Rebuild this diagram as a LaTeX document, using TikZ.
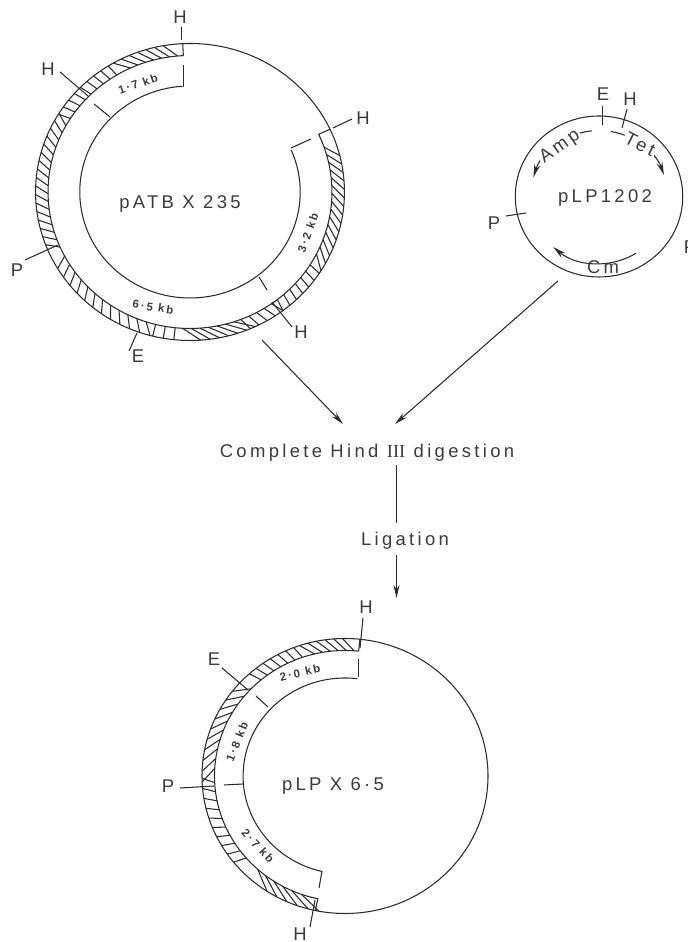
\documentclass[tikz,border=0pt]{standalone}
\usepackage{fontspec}
\setmainfont[LetterSpace=18]{Liberation Sans}
\newfontfamily\romanfont{Liberation Serif}
\usetikzlibrary{arrows.meta}
\definecolor{inkline}{HTML}{2A2A2A}
\definecolor{inktext}{HTML}{3A3A3A}
\tikzset{
  sitelabel/.style={text=inktext, inner sep=0pt, font=\fontsize{10.5}{12}\selectfont},
  namelabel/.style={text=inktext, inner sep=0pt, font=\fontsize{10.5}{12}\selectfont},
  sizelabel/.style={text=inktext, inner sep=0pt, font=\fontsize{6.5}{8}\selectfont\bfseries},
  steplabel/.style={text=inktext, inner sep=0pt, font=\fontsize{10.5}{12}\selectfont},
  sitetick/.style={draw=inkline, line width=0.6pt},
  flowarrow/.style={draw=inkline, line width=0.6pt, -{Stealth[length=2.6mm, width=1.2mm]}}
}
\newcommand{\hatcharc}[6]{%
  \pgfmathsetmacro{\nextangle}{#3+#5}
  \foreach \a [evaluate=\a as \b using \a+#6] in {#3,\nextangle,...,#4}
    \draw[inkline, line width=0.6pt] (\a:#1) -- (\b:#2);}
\begin{document}
\begin{tikzpicture}[x=0.02cm, y=0.02cm, line width=0.6pt, draw=inkline]
  \useasboundingbox (0,0) rectangle (687,942);

  \begin{scope}[shift={(190,750)}, xscale=1.04]
    \draw[inkline] (0,0) circle[radius=148.5];
    \draw[inkline] (92.7:136.5) arc[start angle=92.7, end angle=385, radius=136.5]
      -- (25:148.5) (92.7:136.5) -- (92.7:148.5);
    \draw[inkline] (94:106) arc[start angle=94, end angle=383.5, radius=106];
    \hatcharc{136.5}{148.5}{95}{118}{3.3}{5}
    \hatcharc{136.5}{148.5}{121}{148}{3.3}{1}
    \hatcharc{136.5}{148.5}{151}{205}{3.3}{-3}
    \hatcharc{136.5}{148.5}{208}{252}{4}{3}
    \hatcharc{136.5}{148.5}{256}{264}{4}{0}
    \hatcharc{136.5}{148.5}{267}{288}{3.5}{7}
    \hatcharc{136.5}{148.5}{291}{305}{3.5}{2}
    \hatcharc{136.5}{148.5}{308}{330}{3.3}{-1}
    \hatcharc{136.5}{148.5}{333}{382}{3.3}{-5}
  \end{scope}
  \draw[sitetick] (183.5,855) -- (183.5,877);
  \draw[sitetick] (291,794) -- (311,803);
  \draw[sitetick] (110,825) -- (94,838);
  \draw[sitetick] (259,665) -- (267,652);
  \draw[sitetick] (181.5,915) -- (181.5,902);
  \draw[sitetick] (60,870) -- (88,846);
  \draw[sitetick] (333,814) -- (352,823);
  \draw[sitetick] (272,640) -- (292,615);
  \draw[sitetick] (137,609) -- (129,591);
  \draw[sitetick] (25,682) -- (58,697);
  \node[sitelabel] (atbha) at (180,925) {H};
  \node[sitelabel] (atbhb) at (48,873) {H};
  \node[sitelabel] (atbhc) at (363,824) {H};
  \node[sitelabel] (atbhd) at (301,610) {H};
  \node[sitelabel] (atbe) at (138,586) {E};
  \node[sitelabel] (atbp) at (17,672) {P};
  \node[namelabel] (atbname) at (180,738) {pATB X 235};
  \node[sizelabel, rotate=20] (atbsa) at (138,858) {1·7 kb};
  \node[sizelabel, rotate=70] (atbsb) at (308,709) {3·2 kb};
  \node[sizelabel, rotate=-9] (atbsc) at (153,635) {6·5 kb};

  \begin{scope}[shift={(599,745.5)}, xscale=1.04]
    \draw[inkline] (0,0) circle[radius=80.5];
    \draw[flowarrow] (96:66) arc[start angle=96, end angle=163, radius=66];
    \draw[flowarrow] (80:66) arc[start angle=80, end angle=19, radius=66];
    \draw[flowarrow] (-58:67) arc[start angle=-58, end angle=-131, radius=67];
  \end{scope}
  \draw[sitetick] (602.5,836) -- (602.5,817);
  \draw[sitetick] (627,833) -- (622,814);
  \draw[sitetick] (506,726) -- (526,729);
  \node[sitelabel] (lpe) at (603,848) {E};
  \node[sitelabel] (lph) at (630,843) {H};
  \node[sitelabel] (lppa) at (494,719) {P};
  \node[sitelabel] (lppb) at (690,695) {P};
  \node[sitelabel, fill=white, rotate=35, inner sep=1pt] (amp) at (560,795) {Amp};
  \node[sitelabel, fill=white, rotate=-27, inner sep=1pt] (tet) at (640,798) {Tet};
  \node[sitelabel] (cm) at (603,675) {Cm};
  \node[namelabel] (lpname) at (605,744) {pLP1202};

  \coordinate (atbout) at (262,602);
  \coordinate (atbin) at (343,518);
  \coordinate (lpout) at (558,661);
  \coordinate (lpin) at (395,518);
  \node[steplabel] (digest) at (367,489) {Complete Hind {\romanfont III} digestion};
  \node[steplabel] (ligate) at (405,401) {Ligation};
  \coordinate (digout) at (396.5,477);
  \coordinate (ligin) at (396.5,419);
  \coordinate (ligout) at (396.5,387);
  \coordinate (lpxin) at (396.5,344);
  \draw[flowarrow] (atbout) -- (atbin);
  \draw[flowarrow] (lpout) -- (lpin);
  \draw[sitetick] (digout) -- (ligin);
  \draw[flowarrow] (ligout) -- (lpxin);

  \begin{scope}[shift={(345,166)}, xscale=1.04]
    \draw[inkline] (0,0) circle[radius=137.5];
    \draw[inkline] (84:125.5) arc[start angle=84, end angle=258, radius=125.5]
      -- (258:137.5) (84:125.5) -- (84:137.5);
    \draw[inkline] (83:98) arc[start angle=83, end angle=257, radius=98];
    \hatcharc{125.5}{137.5}{86}{106}{3.5}{5}
    \hatcharc{125.5}{137.5}{109}{132}{3.5}{2}
    \hatcharc{125.5}{137.5}{136}{178}{4.5}{6}
    \hatcharc{125.5}{137.5}{183}{224}{4.2}{-2}
    \hatcharc{125.5}{137.5}{228}{252}{4.5}{9}
  \end{scope}
  \draw[sitetick] (358.5,265) -- (358.5,283);
  \draw[sitetick] (322,71) -- (319,54);
  \draw[sitetick] (268,235) -- (256,246);
  \draw[sitetick] (243,158) -- (224,157);
  \draw[sitetick] (363,324) -- (360,294);
  \draw[sitetick] (315,42) -- (310,15);
  \draw[sitetick] (222,274) -- (248,252);
  \draw[sitetick] (180,154) -- (214,156);
  \node[sitelabel] (lpxha) at (366,335) {H};
  \node[sitelabel] (lpxhb) at (300,8) {H};
  \node[sitelabel] (lpxe) at (214,283) {E};
  \node[sitelabel] (lpxp) at (168,156) {P};
  \node[namelabel] (lpxname) at (333,156) {pLP X 6·5};
  \node[sizelabel, rotate=13] (lpxsa) at (300,269) {2·0 kb};
  \node[sizelabel, rotate=68] (lpxsb) at (237,200) {1·8 kb};
  \node[sizelabel, rotate=-47] (lpxsc) at (258,96) {2·7 kb};
\end{tikzpicture}
\end{document}
